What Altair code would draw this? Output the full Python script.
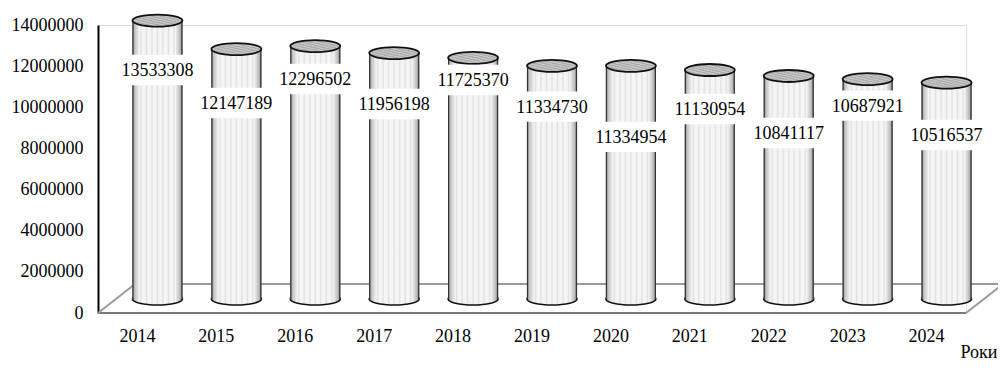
import altair as alt
import pandas as pd

# ---- data ----
years = ["2014", "2015", "2016", "2017", "2018", "2019", "2020", "2021", "2022", "2023", "2024"]
values = [13533308, 12147189, 12296502, 11956198, 11725370, 11334730, 11334954,
          11130954, 10841117, 10687921, 10516537]
# vertical placement of each data label (in axis units)
label_pos = [11.81e6, 10.21e6, 11.375e6, 10.16e6, 11.33e6, 10.03e6, 8.56e6,
             9.92e6, 8.75e6, 10.08e6, 8.65e6]
y_ticks = [0, 2000000, 4000000, 6000000, 8000000, 10000000, 12000000, 14000000]

df = pd.DataFrame({"year": years, "value": values, "label_y": label_pos})
df["zero"] = 0
one = pd.DataFrame({"a": [0]})

# ---- layout ----
W, H = 868, 288
DX, DY = 37, 29          # depth of the 3D floor
OX, OY = 20, -14         # cylinder offset (middle of depth)
CYL = 50                 # cylinder diameter
FONT = "Liberation Serif"

ELLIPSE = ("M -1 0 C -1 -0.132 -0.552 -0.24 0 -0.24 C 0.552 -0.24 1 -0.132 1 0 "
           "C 1 0.132 0.552 0.24 0 0.24 C -0.552 0.24 -1 0.132 -1 0 Z")
BOX = "M -1 -0.4 L 1 -0.4 L 1 0.4 L -1 0.4 Z"

# cylinder side: white with dotted texture, darker edges
body_stops = [alt.GradientStop(offset=0, color="#7f7f7f"),
              alt.GradientStop(offset=0.05, color="#c4c4c4"),
              alt.GradientStop(offset=0.12, color="#e8e8e8")]
cols = 7
for i in range(cols):
    c = 0.17 + i * (0.66 / (cols - 1))
    body_stops += [alt.GradientStop(offset=c - 0.03, color="#f5f5f5"),
                   alt.GradientStop(offset=c, color="#e2e2e2"),
                   alt.GradientStop(offset=c + 0.03, color="#f5f5f5")]
body_stops += [alt.GradientStop(offset=0.88, color="#e4e4e4"),
               alt.GradientStop(offset=0.95, color="#bdbdbd"),
               alt.GradientStop(offset=1, color="#777777")]
body_grad = alt.Gradient(gradient="linear", x1=0, x2=1, y1=0, y2=0, stops=body_stops)

hatch_stops = []
n = 10
for i in range(n):
    a = i / n
    b = (i + 0.5) / n
    hatch_stops += [alt.GradientStop(offset=a, color="#adadad"),
                    alt.GradientStop(offset=b - 0.001, color="#adadad"),
                    alt.GradientStop(offset=b, color="#c6c6c6"),
                    alt.GradientStop(offset=min((i + 1) / n - 0.001, 1), color="#c6c6c6")]
top_grad = alt.Gradient(gradient="linear", x1=0, x2=1, y1=1, y2=0, stops=hatch_stops)

x_axis = alt.Axis(title="Роки", labelAngle=0, domain=False, ticks=False, labelPadding=14,
                  labelFont=FONT, labelFontSize=18, labelColor="black",
                  titleFont=FONT, titleFontSize=18, titleFontWeight="normal", titleColor="black",
                  titleX=W + 31, titleY=39, titleAlign="right", titleBaseline="middle",
                  titleAnchor="end")
y_axis = alt.Axis(title=None, values=y_ticks, format="d", grid=False, ticks=False,
                  domainColor="black", domainWidth=2, labelPadding=15,
                  labelFont=FONT, labelFontSize=18, labelColor="black")
x_scale = alt.Scale(paddingInner=0, paddingOuter=0)
y_scale = alt.Scale(domain=[0, 14000000], nice=False, zero=True)

X = alt.X("year:N", scale=x_scale, axis=x_axis, sort=years)
XC = alt.X("year:N", scale=x_scale, axis=x_axis, sort=years, bandPosition=0.5)


def Y(field):
    return alt.Y(field, type="quantitative", scale=y_scale, axis=y_axis)


# ---- 3D floor ----
floor_col = "#9a9a9a"
front = alt.Chart(one).mark_rule(color="#7a7a7a", strokeWidth=2).encode(
    x=alt.value(0), x2=alt.value(W), y=alt.value(H))
back = alt.Chart(one).mark_rule(color=floor_col, strokeWidth=2).encode(
    x=alt.value(DX), x2=alt.value(W + DX), y=alt.value(H - DY))
diag_l = alt.Chart(one).mark_rule(color=floor_col, strokeWidth=2).encode(
    x=alt.value(0), x2=alt.value(DX), y=alt.value(H), y2=alt.value(H - DY))
diag_r = alt.Chart(one).mark_rule(color=floor_col, strokeWidth=2).encode(
    x=alt.value(W), x2=alt.value(W + DX), y=alt.value(H), y2=alt.value(H - DY))

base = alt.Chart(df)

bottom = base.mark_point(shape=ELLIPSE, size=CYL * CYL, filled=True, fill=body_grad,
                         stroke="#111111", strokeWidth=1.6, opacity=1,
                         xOffset=OX, yOffset=OY).encode(x=X, y=Y("zero"))
body = base.mark_bar(width=CYL, fill=body_grad, xOffset=OX, yOffset=OY, y2Offset=OY).encode(
    x=X, y=Y("value"), y2="zero")
edge_l = base.mark_rule(color="#333333", strokeWidth=1.2, xOffset=OX - CYL / 2 + 0.5,
                        yOffset=OY, y2Offset=OY).encode(x=XC, y=Y("value"), y2="zero")
edge_r = base.mark_rule(color="#333333", strokeWidth=1.2, xOffset=OX + CYL / 2 - 0.5,
                        yOffset=OY, y2Offset=OY).encode(x=XC, y=Y("value"), y2="zero")
top = base.mark_point(shape=ELLIPSE, size=CYL * CYL, filled=True, fill=top_grad,
                      stroke="#111111", strokeWidth=1.8, opacity=1,
                      xOffset=OX, yOffset=OY).encode(x=X, y=Y("value"))
box = base.mark_point(shape=BOX, size=76 * 76, filled=True, fill="white", opacity=1,
                      strokeWidth=0, xOffset=OX).encode(x=X, y=Y("label_y"))
text = base.mark_text(font=FONT, fontSize=18, color="black", baseline="middle",
                      xOffset=OX, dy=1).encode(
    x=X, y=Y("label_y"), text=alt.Text("value:Q", format="d"))

chart = alt.layer(front, back, diag_l, diag_r, bottom, body, edge_l, edge_r, top, box, text).properties(
    width=W, height=H,
    autosize=alt.AutoSizeParams(type="none"),
    padding={"left": 90, "top": 17, "right": 32, "bottom": 50},
).configure_view(stroke=None).configure(background="white")

chart.save("out.html", embed_options={"renderer": "svg", "actions": False})
